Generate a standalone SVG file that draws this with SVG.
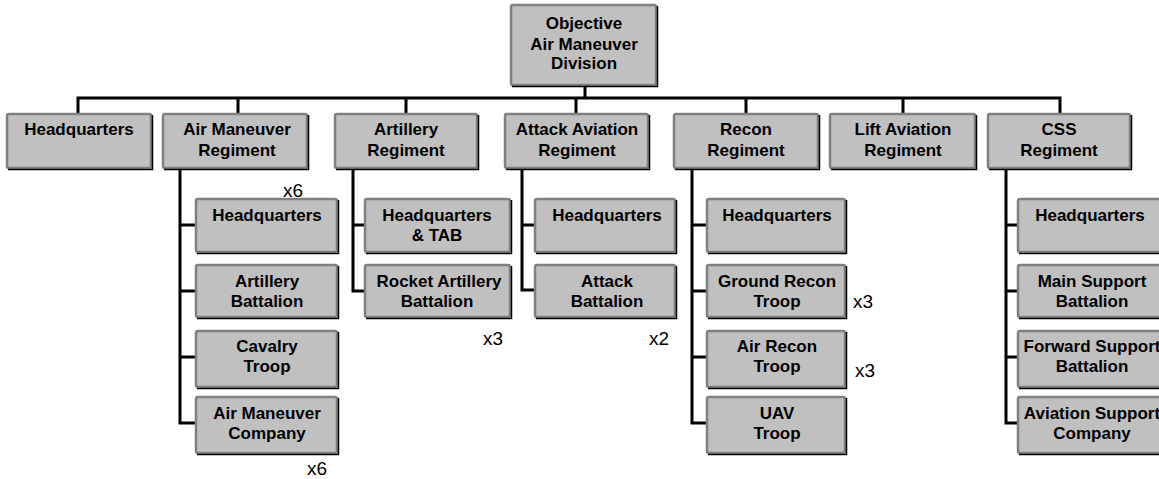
<svg xmlns="http://www.w3.org/2000/svg" width="1159" height="479" viewBox="0 0 1159 479">
  <style>
    .box { fill: #c0c0c0; stroke: #808080; stroke-width: 2.5; }
    .edge { fill: none; stroke: #000; stroke-width: 1.5; }
    .lbl { font-family: "Liberation Sans", Arial, sans-serif; font-size: 17px; font-weight: bold; fill: #000; text-anchor: middle; }
    .mult { font-family: "Liberation Sans", Arial, sans-serif; font-size: 19px; fill: #000; }
    .wire { fill: none; stroke: #000; stroke-width: 3; stroke-linejoin: miter; }
  </style>
  <rect width="1159" height="479" fill="#fff"/>

  <!-- connectors -->
  <g id="connectors" class="wire">
    <path d="M585 85 V98"/>
    <path d="M78 114 V98 H1060 V114"/>
    <path d="M238 98 V114 M406 98 V114 M576 98 V114 M746 98 V114 M903 98 V114"/>
    <!-- Air Maneuver Regiment children -->
    <path d="M180 168 V423 H196 M180 225 H196 M180 291 H196 M180 357 H196"/>
    <!-- Artillery Regiment children -->
    <path d="M353 168 V291 H365 M353 225 H365"/>
    <!-- Attack Aviation Regiment children -->
    <path d="M522 168 V290 H535 M522 225 H535"/>
    <!-- Recon Regiment children -->
    <path d="M692 168 V423 H707 M692 225 H707 M692 291 H707 M692 357 H707"/>
    <!-- CSS Regiment children -->
    <path d="M1006 168 V423 H1018 M1006 225 H1018 M1006 291 H1018 M1006 357 H1018"/>
  </g>

  <!-- division -->
  <g id="division">
    <rect class="box" x="511" y="5" width="145" height="80" rx="2"/>
    <path class="edge" d="M657.5 6 V86.5 H512"/>
    <text class="lbl" x="584" y="29">Objective</text>
    <text class="lbl" x="584" y="50">Air Maneuver</text>
    <text class="lbl" x="584" y="69">Division</text>
  </g>

  <!-- regiments -->
  <g id="hq">
    <rect class="box" x="7" y="114" width="144" height="54" rx="2"/>
    <path class="edge" d="M152.5 115 V169.5 H8"/>
    <text class="lbl" x="79" y="135">Headquarters</text>
  </g>
  <g id="air-maneuver-regiment">
    <rect class="box" x="163" y="114" width="144" height="54" rx="2"/>
    <path class="edge" d="M308.5 115 V169.5 H164"/>
    <text class="lbl" x="237" y="135">Air Maneuver</text>
    <text class="lbl" x="237" y="156">Regiment</text>
  </g>
  <g id="artillery-regiment">
    <rect class="box" x="335" y="114" width="142" height="54" rx="2"/>
    <path class="edge" d="M478.5 115 V169.5 H336"/>
    <text class="lbl" x="406" y="135">Artillery</text>
    <text class="lbl" x="406" y="156">Regiment</text>
  </g>
  <g id="attack-aviation-regiment">
    <rect class="box" x="505" y="114" width="143" height="54" rx="2"/>
    <path class="edge" d="M649.5 115 V169.5 H506"/>
    <text class="lbl" x="577" y="135">Attack Aviation</text>
    <text class="lbl" x="577" y="156">Regiment</text>
  </g>
  <g id="recon-regiment">
    <rect class="box" x="674" y="114" width="144" height="54" rx="2"/>
    <path class="edge" d="M819.5 115 V169.5 H675"/>
    <text class="lbl" x="746" y="135">Recon</text>
    <text class="lbl" x="746" y="156">Regiment</text>
  </g>
  <g id="lift-aviation-regiment">
    <rect class="box" x="830" y="114" width="145" height="54" rx="2"/>
    <path class="edge" d="M976.5 115 V169.5 H831"/>
    <text class="lbl" x="903" y="135">Lift Aviation</text>
    <text class="lbl" x="903" y="156">Regiment</text>
  </g>
  <g id="css-regiment">
    <rect class="box" x="988" y="114" width="142" height="54" rx="2"/>
    <path class="edge" d="M1131.5 115 V169.5 H989"/>
    <text class="lbl" x="1059" y="135">CSS</text>
    <text class="lbl" x="1059" y="156">Regiment</text>
  </g>

  <!-- Air Maneuver Regiment units -->
  <g id="amr-hq">
    <rect class="box" x="196" y="199" width="141" height="53" rx="2"/>
    <path class="edge" d="M338.5 200 V253.5 H197"/>
    <text class="lbl" x="267" y="221">Headquarters</text>
  </g>
  <g id="amr-artillery-battalion">
    <rect class="box" x="196" y="265" width="141" height="52" rx="2"/>
    <path class="edge" d="M338.5 266 V318.5 H197"/>
    <text class="lbl" x="267" y="287">Artillery</text>
    <text class="lbl" x="267" y="307">Battalion</text>
  </g>
  <g id="amr-cavalry-troop">
    <rect class="box" x="196" y="331" width="141" height="56" rx="2"/>
    <path class="edge" d="M338.5 332 V388.5 H197"/>
    <text class="lbl" x="267" y="352">Cavalry</text>
    <text class="lbl" x="267" y="372">Troop</text>
  </g>
  <g id="amr-air-maneuver-company">
    <rect class="box" x="196" y="397" width="141" height="56" rx="2"/>
    <path class="edge" d="M338.5 398 V454.5 H197"/>
    <text class="lbl" x="267" y="419">Air Maneuver</text>
    <text class="lbl" x="267" y="439">Company</text>
  </g>

  <!-- Artillery Regiment units -->
  <g id="art-hq-tab">
    <rect class="box" x="365" y="199" width="145" height="53" rx="2"/>
    <path class="edge" d="M511.5 200 V253.5 H366"/>
    <text class="lbl" x="437" y="221">Headquarters</text>
    <text class="lbl" x="437" y="241">&amp; TAB</text>
  </g>
  <g id="art-rocket-battalion">
    <rect class="box" x="365" y="265" width="145" height="52" rx="2"/>
    <path class="edge" d="M511.5 266 V318.5 H366"/>
    <text class="lbl" x="439" y="287">Rocket Artillery</text>
    <text class="lbl" x="437" y="307">Battalion</text>
  </g>

  <!-- Attack Aviation Regiment units -->
  <g id="aa-hq">
    <rect class="box" x="535" y="199" width="140" height="53" rx="2"/>
    <path class="edge" d="M676.5 200 V253.5 H536"/>
    <text class="lbl" x="607" y="221">Headquarters</text>
  </g>
  <g id="aa-attack-battalion">
    <rect class="box" x="535" y="265" width="140" height="52" rx="2"/>
    <path class="edge" d="M676.5 266 V318.5 H536"/>
    <text class="lbl" x="607" y="287">Attack</text>
    <text class="lbl" x="607" y="307">Battalion</text>
  </g>

  <!-- Recon Regiment units -->
  <g id="recon-hq">
    <rect class="box" x="707" y="199" width="138" height="53" rx="2"/>
    <path class="edge" d="M846.5 200 V253.5 H708"/>
    <text class="lbl" x="777" y="221">Headquarters</text>
  </g>
  <g id="recon-ground-troop">
    <rect class="box" x="707" y="265" width="138" height="52" rx="2"/>
    <path class="edge" d="M846.5 266 V318.5 H708"/>
    <text class="lbl" x="777" y="287">Ground Recon</text>
    <text class="lbl" x="777" y="307">Troop</text>
  </g>
  <g id="recon-air-troop">
    <rect class="box" x="707" y="331" width="138" height="56" rx="2"/>
    <path class="edge" d="M846.5 332 V388.5 H708"/>
    <text class="lbl" x="777" y="352">Air Recon</text>
    <text class="lbl" x="777" y="372">Troop</text>
  </g>
  <g id="recon-uav-troop">
    <rect class="box" x="707" y="397" width="138" height="56" rx="2"/>
    <path class="edge" d="M846.5 398 V454.5 H708"/>
    <text class="lbl" x="777" y="419">UAV</text>
    <text class="lbl" x="777" y="439">Troop</text>
  </g>

  <!-- CSS Regiment units -->
  <g id="css-hq">
    <rect class="box" x="1018" y="199" width="145" height="53" rx="2"/>
    <path class="edge" d="M1164.5 200 V253.5 H1019"/>
    <text class="lbl" x="1090" y="221">Headquarters</text>
  </g>
  <g id="css-main-support">
    <rect class="box" x="1018" y="265" width="145" height="52" rx="2"/>
    <path class="edge" d="M1164.5 266 V318.5 H1019"/>
    <text class="lbl" x="1092" y="287">Main Support</text>
    <text class="lbl" x="1092" y="307">Battalion</text>
  </g>
  <g id="css-forward-support">
    <rect class="box" x="1018" y="331" width="145" height="56" rx="2"/>
    <path class="edge" d="M1164.5 332 V388.5 H1019"/>
    <text class="lbl" x="1092" y="352">Forward Support</text>
    <text class="lbl" x="1092" y="372">Battalion</text>
  </g>
  <g id="css-aviation-support">
    <rect class="box" x="1018" y="397" width="145" height="56" rx="2"/>
    <path class="edge" d="M1164.5 398 V454.5 H1019"/>
    <text class="lbl" x="1092" y="419">Aviation Support</text>
    <text class="lbl" x="1092" y="439">Company</text>
  </g>

  <!-- unit multipliers -->
  <g id="multipliers">
    <text class="mult" x="283" y="197">x6</text>
    <text class="mult" x="307" y="475">x6</text>
    <text class="mult" x="483" y="345">x3</text>
    <text class="mult" x="649" y="345">x2</text>
    <text class="mult" x="853" y="308">x3</text>
    <text class="mult" x="855" y="377">x3</text>
  </g>
</svg>
